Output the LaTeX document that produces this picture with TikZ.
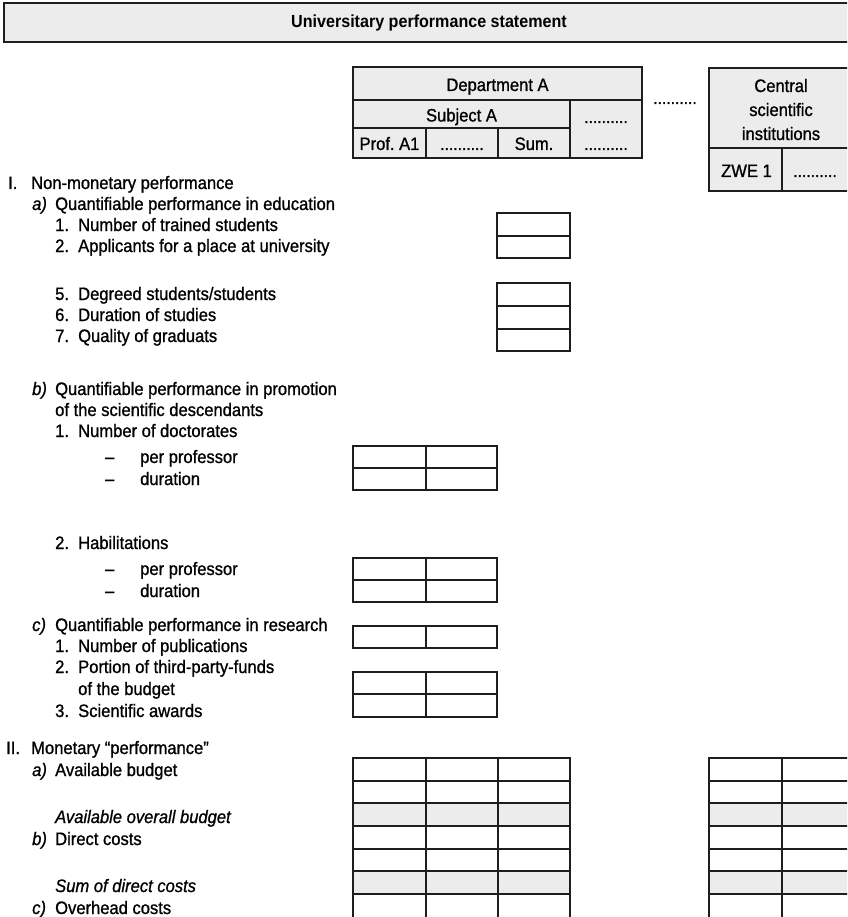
\documentclass[tikz,border=0pt]{standalone}
\usepackage{fontspec}
\setmainfont{Liberation Sans}[FakeStretch=0.92, UprightFeatures={FakeBold=1}, ItalicFeatures={FakeBold=1}]
\definecolor{cellgray}{HTML}{ECECEC}
\definecolor{linec}{HTML}{1E1E1E}
\frenchspacing
\begin{document}
\begin{tikzpicture}[x=1pt,y=-1pt,
  txt/.style={font=\fontsize{18}{21}\selectfont, anchor=base west, inner sep=0pt},
  ctxt/.style={font=\fontsize{18}{21}\selectfont, anchor=base, inner sep=0pt},
  dots/.style={font=\fontsize{17}{20}\selectfont, anchor=base, inner sep=0pt},
  grid/.style={draw=linec, line width=1.7pt, line cap=rect},
  shade/.style={fill=cellgray},
  ]
\useasboundingbox (0,0) rectangle (847,917);
\clip (0,0) rectangle (847,917);

% ---------- title bar
\draw[fill=cellgray, draw=linec, line width=1.9pt] (4,3) rectangle (870,42);
\node[font=\bfseries\fontsize{17.5}{20}\selectfont, inner sep=0pt] (title) at (429,23) {Universitary performance statement};

% ---------- Department A table
\path[shade] (353,67) rectangle (642,158);
\draw[grid] (353,67) rectangle (642,158);
\draw[grid] (353,100) -- (642,100);
\draw[grid] (353,128) -- (570,128);
\draw[grid] (570,100) -- (570,158);
\draw[grid] (426,128) -- (426,158);
\draw[grid] (498,128) -- (498,158);
\node[ctxt] (depA) at (497.5,91) {Department A};
\node[ctxt] (subA) at (461.5,121.5) {Subject A};
\node[ctxt] (profA1) at (389.5,150) {Prof. A1};
\node[dots] (profdots) at (462,150) {..........};
\node[ctxt] (sum) at (534,150) {Sum.};
\node[dots] (rdots1) at (606,123) {..........};
\node[dots] (rdots2) at (606,150) {..........};

\node[dots] (middots) at (675,104) {..........};

% ---------- Central scientific institutions
\path[shade] (709,68) rectangle (870,191);
\draw[grid] (709,68) rectangle (870,191);
\draw[grid] (709,148) -- (870,148);
\draw[grid] (782,148) -- (782,191);
\node[ctxt] (central1) at (781,92) {Central};
\node[ctxt] (central2) at (781,116) {scientific};
\node[ctxt] (central3) at (781,140) {institutions};
\node[ctxt] (zwe1) at (746.5,177) {ZWE 1};
\node[dots] (zwedots) at (815,177) {..........};

% ---------- I. Non-monetary performance
\node[txt] (I) at (8,189) {I.};
\node[txt] (Ilab) at (31,189) {Non-monetary performance};
\node[txt] (Ia) at (32,210) {\itshape a)};
\node[txt] (Ialab) at (55,210) {Quantifiable performance in education};
\node[txt] (Ia1) at (55,231) {1.};
\node[txt] (Ia1l) at (78,231) {Number of trained students};
\node[txt] (Ia2) at (55,252) {2.};
\node[txt] (Ia2l) at (78,252) {Applicants for a place at university};
\node[txt] (Ia5) at (55,300) {5.};
\node[txt] (Ia5l) at (78,300) {Degreed students/students};
\node[txt] (Ia6) at (55,321) {6.};
\node[txt] (Ia6l) at (78,321) {Duration of studies};
\node[txt] (Ia7) at (55,342) {7.};
\node[txt] (Ia7l) at (78,342) {Quality of graduats};

\draw[grid] (497,213) rectangle (570,258);
\draw[grid] (497,236) -- (570,236);
\draw[grid] (497,283) rectangle (570,351);
\draw[grid] (497,306) -- (570,306);
\draw[grid] (497,329) -- (570,329);

\node[txt] (Ib) at (32,395) {\itshape b)};
\node[txt] (Iblab) at (55,395) {Quantifiable performance in promotion};
\node[txt] (Iblab2) at (55,416) {of the scientific descendants};
\node[txt] (Ib1) at (55,437) {1.};
\node[txt] (Ib1l) at (78,437) {Number of doctorates};
\node[txt] (Ib1d1) at (105,463) {\textendash};
\node[txt] (Ib1a) at (140,463) {per professor};
\node[txt] (Ib1d2) at (105,485) {\textendash};
\node[txt] (Ib1b) at (140,485) {duration};
\node[txt] (Ib2) at (55,549) {2.};
\node[txt] (Ib2l) at (78,549) {Habilitations};
\node[txt] (Ib2d1) at (105,575) {\textendash};
\node[txt] (Ib2a) at (140,575) {per professor};
\node[txt] (Ib2d2) at (105,597) {\textendash};
\node[txt] (Ib2b) at (140,597) {duration};

\draw[grid] (353,446) rectangle (497,490);
\draw[grid] (353,468) -- (497,468);
\draw[grid] (426,446) -- (426,490);
\draw[grid] (353,558) rectangle (497,602);
\draw[grid] (353,580) -- (497,580);
\draw[grid] (426,558) -- (426,602);

\node[txt] (Ic) at (32,631) {\itshape c)};
\node[txt] (Iclab) at (55,631) {Quantifiable performance in research};
\node[txt] (Ic1) at (55,652) {1.};
\node[txt] (Ic1l) at (78,652) {Number of publications};
\node[txt] (Ic2) at (55,673) {2.};
\node[txt] (Ic2l) at (78,673) {Portion of third-party-funds};
\node[txt] (Ic2l2) at (78,695) {of the budget};
\node[txt] (Ic3) at (55,717) {3.};
\node[txt] (Ic3l) at (78,717) {Scientific awards};

\draw[grid] (353,626) rectangle (497,648);
\draw[grid] (426,626) -- (426,648);
\draw[grid] (353,672) rectangle (497,717);
\draw[grid] (353,694) -- (497,694);
\draw[grid] (426,672) -- (426,717);

% ---------- II. Monetary performance
\node[txt] (II) at (6,754) {II.};
\node[txt] (IIlab) at (31,754) {Monetary “performance”};
\node[txt] (IIa) at (32,776) {\itshape a)};
\node[txt] (IIalab) at (55,776) {Available budget};
\node[txt] (IIsum1) at (55,823) {\itshape Available overall budget};
\node[txt] (IIb) at (32,845) {\itshape b)};
\node[txt] (IIblab) at (55,845) {Direct costs};
\node[txt] (IIsum2) at (55,892) {\itshape Sum of direct costs};
\node[txt] (IIc) at (32,914) {\itshape c)};
\node[txt] (IIclab) at (55,914) {Overhead costs};

\path[shade] (353,803) rectangle (570,826);
\path[shade] (353,871) rectangle (570,894);
\path[shade] (709,803) rectangle (870,826);
\path[shade] (709,871) rectangle (870,894);
\foreach \yy in {758,781,803,826,849,871,894} {
  \draw[grid] (353,\yy) -- (570,\yy);
  \draw[grid] (709,\yy) -- (870,\yy);
}
\foreach \xx in {353,426,498,570} \draw[grid] (\xx,758) -- (\xx,940);
\foreach \xx in {709,782} \draw[grid] (\xx,758) -- (\xx,940);
\end{tikzpicture}
\end{document}
